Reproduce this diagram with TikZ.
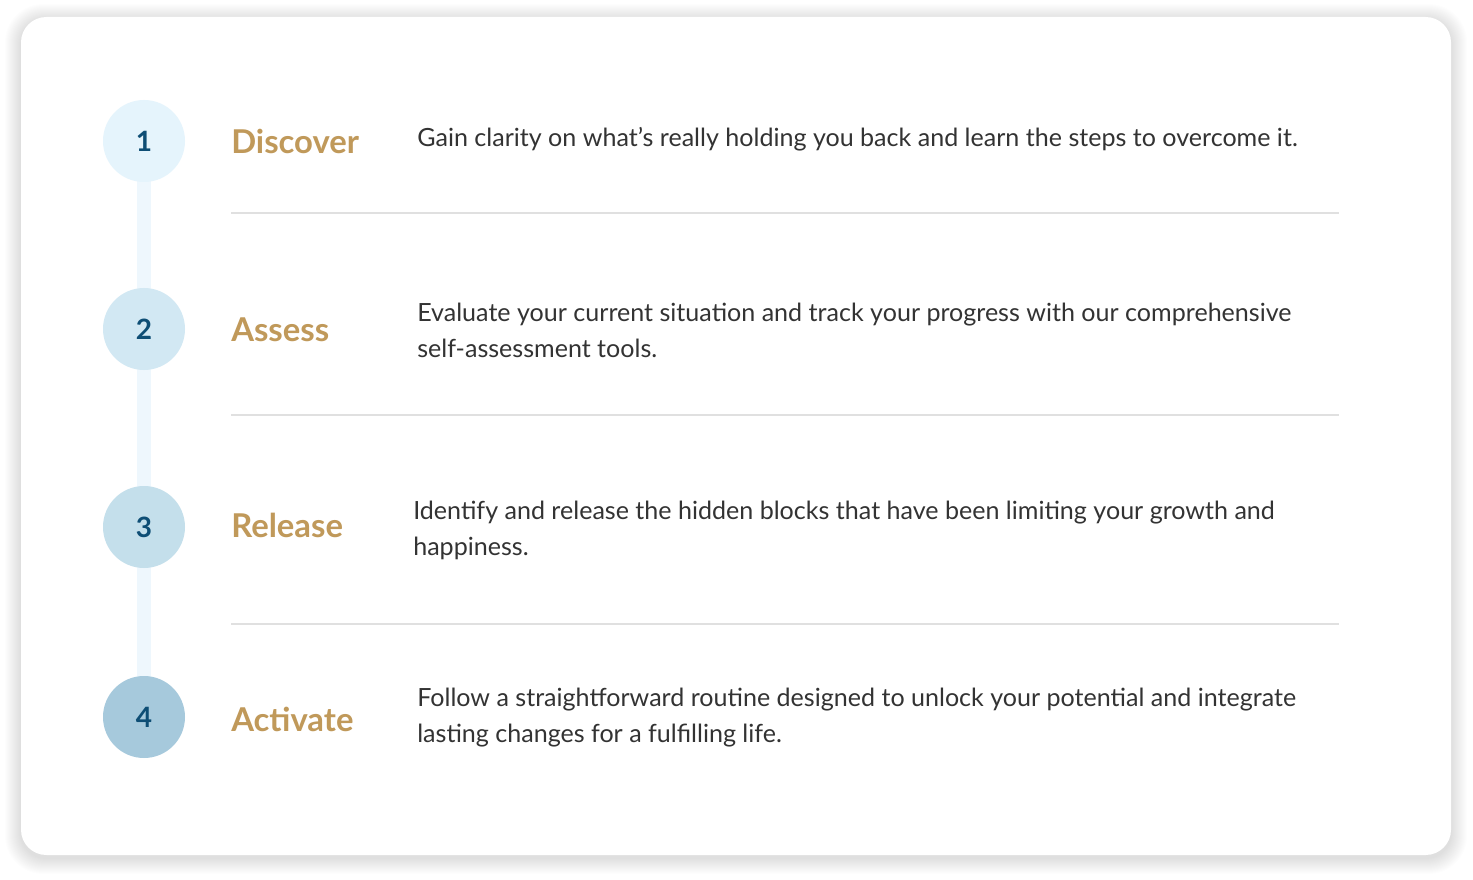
\documentclass[tikz,border=0pt]{standalone}
\usepackage{fontspec}
\setmainfont{Lato}
\usetikzlibrary{backgrounds}
\definecolor{gold}{HTML}{C0995A}
\definecolor{numblue}{HTML}{0E4E75}
\definecolor{bodygray}{HTML}{333333}
\definecolor{rulegray}{HTML}{E0E0E0}
\definecolor{trackblue}{HTML}{EEF7FD}
\definecolor{cA}{HTML}{E5F4FC}
\definecolor{cB}{HTML}{D2E8F3}
\definecolor{cC}{HTML}{C4DFEB}
\definecolor{cD}{HTML}{A6C9DC}
\tikzset{
  stepcircle/.style={circle, minimum size=61.5pt, inner sep=0pt, text=numblue, font=\fontsize{21}{22}\selectfont\bfseries},
  steptitle/.style={anchor=west, inner sep=0pt, text=gold, font=\fontsize{24.6}{28}\selectfont\bfseries},
  stepdesc/.style={anchor=west, inner sep=0pt, align=left, text=bodygray, font=\fontsize{18.8}{27}\selectfont},
  sepline/.style={draw=rulegray, line width=2.2pt},
  track/.style={draw=trackblue, line width=10.5pt}
}
\begin{document}
\begin{tikzpicture}[x=0.75pt,y=-0.75pt]
\useasboundingbox (0,0) rectangle (1473,880);

\node[stepcircle, fill=cA] (c1) at (144,141) {1};
\node[stepcircle, fill=cB] (c2) at (144,329) {2};
\node[stepcircle, fill=cC] (c3) at (144,527) {3};
\node[stepcircle, fill=cD] (c4) at (144,717) {4};

\begin{scope}[on background layer]
\fill[white] (0,0) rectangle (1473,880);
\foreach \i in {1,...,16} {
  \fill[black, opacity=0.007, rounded corners=19pt+0.6*\i pt] (21-\i,17-\i+3) rectangle (1451+\i,855+\i+3);
}
\fill[white, rounded corners=19pt] (21,17) rectangle (1451,855);
\draw[track] (c1.center) -- (c4.center);
\end{scope}

\node[steptitle] (t1) at (231,141) {Discover};
\node[steptitle] (t2) at (231,330) {Assess};
\node[steptitle] (t3) at (231,525) {Release};
\node[steptitle] (t4) at (231,719) {Activate};

\node[stepdesc] (d1) at (417,139) {Gain clarity on what’s really holding you back and learn the steps to overcome it.};
\node[stepdesc] (d2) at (417,330) {Evaluate your current situation and track your progress with our comprehensive\\self-assessment tools.};
\node[stepdesc] (d3) at (413,530) {Identify and release the hidden blocks that have been limiting your growth and\\happiness.};
\node[stepdesc] (d4) at (417,718) {Follow a straightforward routine designed to unlock your potential and integrate\\lasting changes for a fulfilling life.};

\coordinate (s1a) at (231,213); \coordinate (s1b) at (1339,213);
\coordinate (s2a) at (231,415); \coordinate (s2b) at (1339,415);
\coordinate (s3a) at (231,624); \coordinate (s3b) at (1339,624);
\draw[sepline] (s1a) -- (s1b);
\draw[sepline] (s2a) -- (s2b);
\draw[sepline] (s3a) -- (s3b);
\end{tikzpicture}
\end{document}
